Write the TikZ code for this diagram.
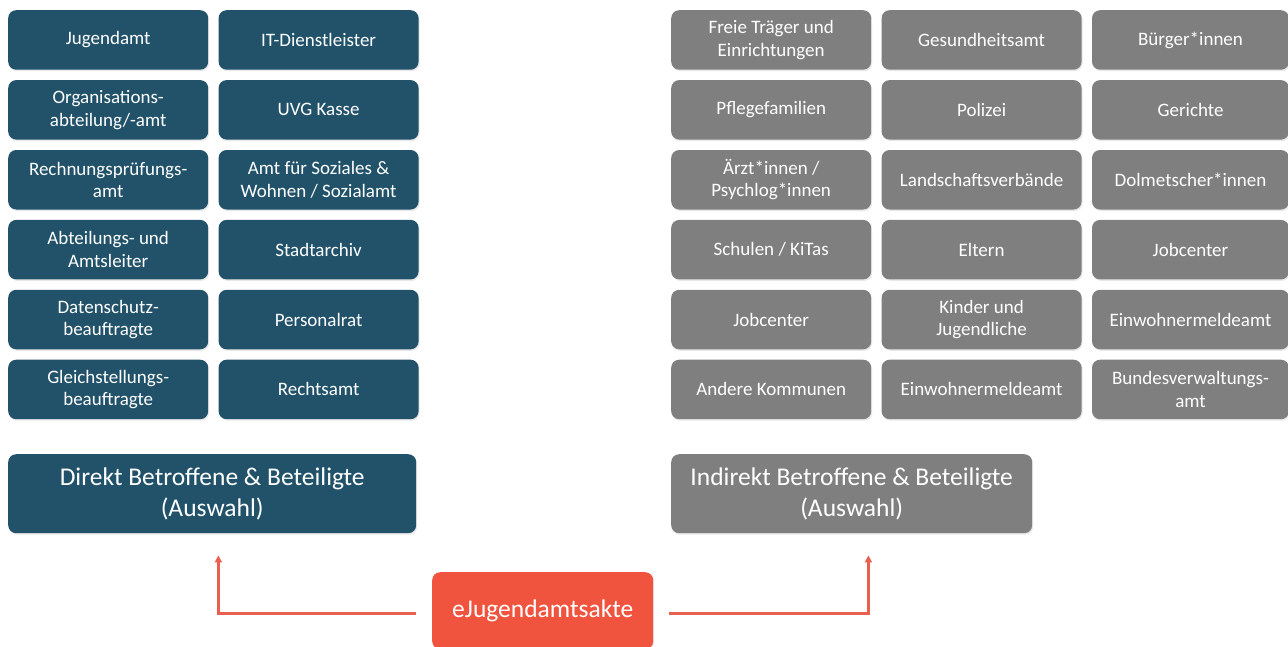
\documentclass[tikz,border=0pt]{standalone}
\usepackage{fontspec}
\setmainfont{Carlito}
\usepackage{tikz}
\usetikzlibrary{positioning,arrows.meta,shadows}
\definecolor{dTeal}{RGB}{33,82,106}
\definecolor{dGray}{RGB}{127,127,127}
\definecolor{dOrange}{RGB}{240,83,62}
\definecolor{dArrow}{RGB}{233,96,80}
\tikzset{
  party/.style={rectangle, rounded corners=8pt, fill=dTeal, text=white,
                minimum height=59.5pt, minimum width=200pt, inner sep=2pt,
                align=center, font=\fontsize{19}{22.5}\selectfont,
                drop shadow={opacity=0.18, shadow xshift=1pt, shadow yshift=-1.5pt}},
  other/.style={party, fill=dGray},
  group/.style={party, minimum height=79pt, font=\fontsize{25.5}{31}\selectfont},
  core/.style={party, fill=dOrange, minimum width=221pt, minimum height=77pt,
               font=\fontsize{25.5}{30}\selectfont},
  link/.style={-{Triangle[length=7pt,width=7pt]}, draw=dArrow, line width=3pt},
}
\newcommand{\Party}[4][]{%
  \node[#2,#1] (#3) {#4};}

\begin{document}
\begin{tikzpicture}[x=1pt, y=1pt, node distance=10pt]
  \useasboundingbox (0,0) rectangle (1288,-646);
  % directly affected parties
  \Party[anchor=north west, at={(8,-10)}]{party}{jug}{Jugendamt}
  \Party[below=of jug]{party}{org}{Organisations-\\abteilung/-amt}
  \Party[below=of org]{party}{rpa}{Rechnungsprüfungs-\\amt}
  \Party[below=of rpa]{party}{abt}{Abteilungs- und\\Amtsleiter}
  \Party[below=of abt]{party}{dsb}{Datenschutz-\\beauftragte}
  \Party[below=of dsb]{party}{gsb}{Gleichstellungs-\\beauftragte}
  \Party[right=of jug]{party}{itd}{IT-Dienstleister}
  \Party[right=of org]{party}{uvg}{UVG Kasse}
  \Party[right=of rpa]{party}{soz}{Amt für Soziales \&\\Wohnen / Sozialamt}
  \Party[right=of abt]{party}{arc}{Stadtarchiv}
  \Party[right=of dsb]{party}{prt}{Personalrat}
  \Party[right=of gsb]{party}{rsa}{Rechtsamt}
  % indirectly affected parties
  \Party[anchor=north west, at={(671,-10)}]{other}{frt}{Freie Träger und\\Einrichtungen}
  \Party[below=of frt]{other}{pfl}{Pflegefamilien}
  \Party[below=of pfl]{other}{arz}{Ärzt*innen /\\Psychlog*innen}
  \Party[below=of arz]{other}{sch}{Schulen / KiTas}
  \Party[below=of sch]{other}{job}{Jobcenter}
  \Party[below=of job]{other}{kom}{Andere Kommunen}
  \Party[right=of frt]{other}{gsa}{Gesundheitsamt}
  \Party[right=of pfl]{other}{pol}{Polizei}
  \Party[right=of arz]{other}{lsv}{Landschaftsverbände}
  \Party[right=of sch]{other}{elt}{Eltern}
  \Party[right=of job]{other}{kij}{Kinder und\\Jugendliche}
  \Party[right=of kom]{other}{ewa}{Einwohnermeldeamt}
  \Party[right=of gsa, minimum width=197pt]{other}{bue}{Bürger*innen}
  \Party[right=of pol, minimum width=197pt]{other}{ger}{Gerichte}
  \Party[right=of lsv, minimum width=197pt]{other}{dol}{Dolmetscher*innen}
  \Party[right=of elt, minimum width=197pt]{other}{jbc}{Jobcenter}
  \Party[right=of kij, minimum width=197pt]{other}{ewb}{Einwohnermeldeamt}
  \Party[right=of ewa, minimum width=197pt]{other}{bva}{Bundesverwaltungs-\\amt}
  % summary boxes and the file
  \node[group, anchor=north west, minimum width=408pt] (dir) at (8,-454)
    {Direkt Betroffene \& Beteiligte\\(Auswahl)};
  \node[group, fill=dGray, anchor=north west, minimum width=361pt] (ind) at (671,-454)
    {Indirekt Betroffene \& Beteiligte\\(Auswahl)};
  \node[core, anchor=north west] (ejug) at (432,-572) {eJugendamtsakte};
  % arrows
  \draw[link] ([xshift=-16pt,yshift=-3pt]ejug.west) -| ([yshift=-22pt]dir.south -| uvg.west);
  \draw[link] ([xshift=16pt,yshift=-3pt]ejug.east) -| ([xshift=-3pt,yshift=-22pt]ind.south -| pfl.east);
\end{tikzpicture}
\end{document}
